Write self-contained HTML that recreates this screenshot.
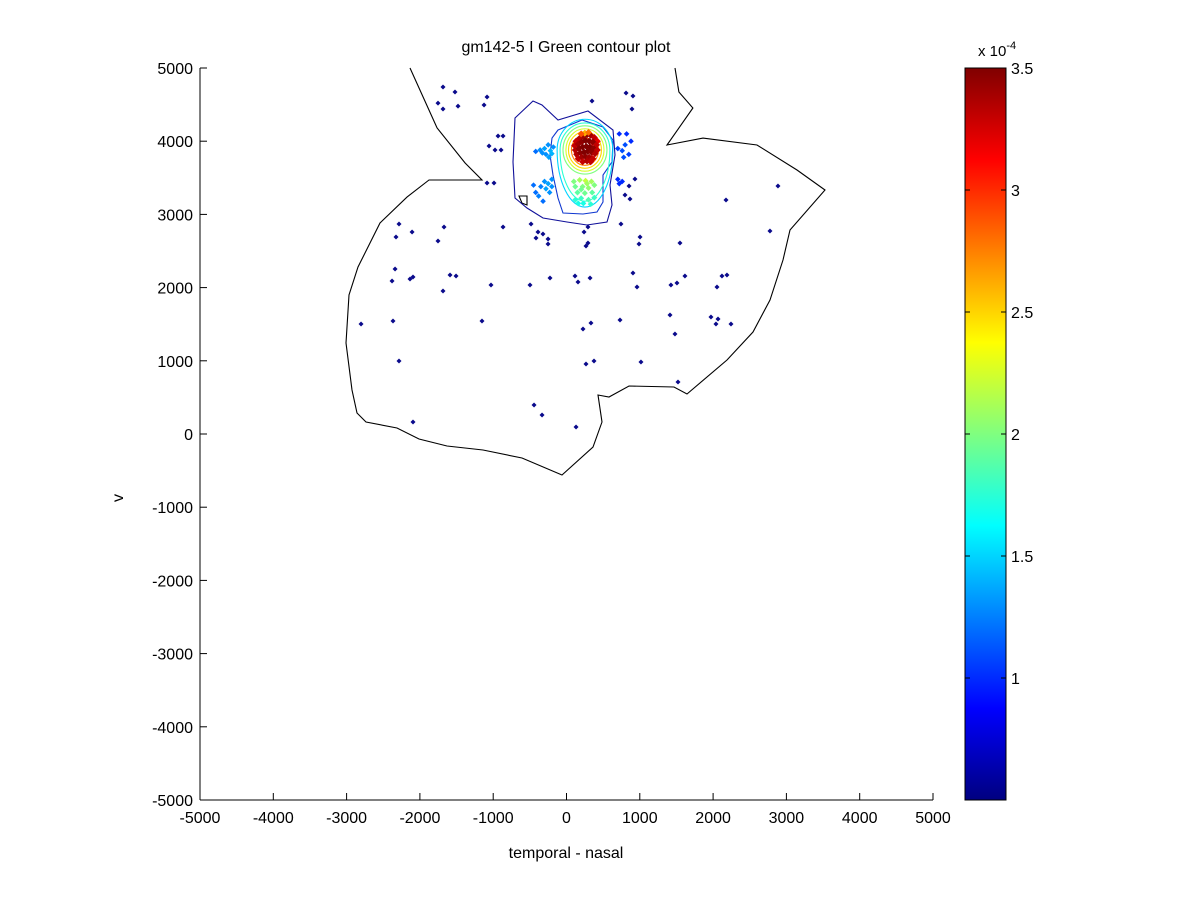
<!DOCTYPE html>
<html><head><meta charset="utf-8"><style>
body{margin:0;background:#fff;}
svg{display:block;font-family:"Liberation Sans",Arial,sans-serif;}
</style></head><body>
<svg id="chart" width="1200" height="900" viewBox="0 0 1200 900">
<defs><linearGradient id="jet" x1="0" y1="1" x2="0" y2="0">
<stop offset="0" stop-color="#000080"/><stop offset="0.125" stop-color="#0000ff"/><stop offset="0.375" stop-color="#00ffff"/><stop offset="0.625" stop-color="#ffff00"/><stop offset="0.875" stop-color="#ff0000"/><stop offset="1" stop-color="#800000"/>
</linearGradient></defs>
<text x="566" y="52" font-size="16" text-anchor="middle">gm142-5 I Green contour plot</text>
<text x="566" y="858" font-size="16" text-anchor="middle">temporal - nasal</text>
<text x="123" y="498" font-size="16" text-anchor="middle" transform="rotate(-90 123 498)">v</text>
<g id="plot"></g>
<rect x="965" y="68" width="41" height="732" fill="url(#jet)" stroke="#000" stroke-width="1"/>
<text x="978" y="56" font-size="15">x 10<tspan dy="-7" font-size="11">-4</tspan></text>
<g id="cbticks"></g>
</svg>
<script>
const xTicks=[-5000,-4000,-3000,-2000,-1000,0,1000,2000,3000,4000,5000];
const yTicks=[-5000,-4000,-3000,-2000,-1000,0,1000,2000,3000,4000,5000];
const cbTicks=[1,1.5,2,2.5,3,3.5];
const cbMin=0.5, cbMax=3.5;
const outlineX=[-2135,-1766,-1384,-1153,-1876,-2176,-2544,-2844,-2967,-3008,-2926,-2858,-2735,-2312,-2012,-1630,-1139,-607,-61,361,484,430,580,853,1466,1644,2189,2544,2776,2953,3049,3527,3145,2599,1862,1371,1725,1534,1480];
const outlineY=[5000,4180,3702,3470,3470,3237,2882,2281,1899,1243,601,287,164,82,-68,-164,-219,-328,-560,-178,164,533,505,656,642,546,1011,1393,1830,2377,2787,3333,3606,3948,4043,3948,4453,4672,5000];
const ring1X=[-702,-457,-334,-116,293,634,662,593,621,552,280,7,-321,-539,-702,-730];
const ring1Y=[4317,4549,4494,4289,4412,4153,3811,3401,3128,2896,2855,2896,2951,3087,3224,3716];
const ring2X=[-116,211,498,634,621,498,498,416,225,-48,-116,-184,-225,-198];
const ring2Y=[4153,4289,4194,4016,3716,3538,3169,3033,3005,3019,3224,3538,3811,4043];
const smallX=[-648,-539,-539,-607];
const smallY=[3251,3251,3128,3155];
const ringLevels=[1.5,1.75,2.0,2.25,2.5,2.75,3.0,3.25];
const ringRx=[380,340,300,260,225,185,150,115];
const ringUp=[420,370,330,290,250,205,165,130];
const ringDown=[780,700,330,290,250,210,170,135];
const ringCx=252, ringCy=3880;
const darkX=[-1685,-1521,-1753,-1685,-1480,-1084,-1125,348,812,907,893,-934,-866,-1057,-975,-893,-1084,-989,934,853,798,866,2885,2176,2776,-2285,-2326,-2107,-1671,-1753,-866,-484,-389,-321,-416,-252,-252,239,293,266,293,743,1003,989,1548,-2339,-2380,-2135,-2094,-1589,-1507,-1685,-1030,-498,-225,116,157,321,907,962,1425,1507,1616,2121,2189,2053,-2803,-2367,-1153,225,334,730,1412,1480,1971,2067,2039,2244,-2285,266,375,1016,1521,-443,-334,130,-2094];
const darkY=[4740,4672,4521,4440,4480,4603,4494,4549,4658,4617,4440,4071,4071,3934,3879,3879,3429,3429,3483,3388,3265,3210,3388,3196,2773,2869,2691,2759,2828,2636,2828,2869,2759,2732,2677,2664,2595,2759,2828,2568,2609,2869,2691,2595,2609,2254,2090,2117,2145,2172,2158,1953,2035,2035,2131,2158,2076,2131,2199,2008,2035,2063,2158,2158,2172,2008,1503,1544,1544,1434,1516,1557,1626,1366,1598,1571,1503,1503,997,956,997,984,710,396,260,96,164];
const clusterX=[-360,-300,-250,-220,-280,-200,-420,-240,-180,-330,-300,-250,-200,-350,-280,-420,-230,-380,-320,-200,-450,720,800,760,850,700,880,780,820,700,760,720];
const clusterY=[3880,3900,3950,3870,3820,3830,3860,3780,3920,3840,3450,3420,3480,3380,3350,3300,3300,3250,3180,3380,3400,4100,3950,3870,3820,3900,4000,3780,4100,3480,3450,3420];
const clusterV=[1.3,1.35,1.3,1.4,1.3,1.4,1.2,1.35,1.3,1.3,1.3,1.35,1.3,1.25,1.35,1.2,1.3,1.25,1.2,1.3,1.2,1.0,1.1,1.1,1.05,1.05,1.0,1.1,1.0,1.0,1.0,1.0];
const greenX=[100,180,260,340,380,120,220,300,150,250,350,200,300,380,120,230,330,160,280,200];
const greenY=[3450,3470,3460,3450,3400,3380,3380,3360,3300,3290,3300,3220,3200,3230,3200,3150,3140,3150,3420,3340];
const greenV=[2.0,2.1,2.2,2.1,2.0,1.95,2.0,2.05,1.9,1.95,1.9,1.8,1.85,1.8,1.75,1.7,1.75,1.7,2.1,1.95];
const redX=[130,180,230,280,330,380,420,110,160,210,260,310,360,410,120,170,220,270,320,370,420,140,190,240,290,340,390,160,210,260,310,360,220,280,330,250,300,200];
const redY=[4000,4040,4070,4090,4080,4050,4000,3940,3960,3990,4010,4000,3990,3950,3880,3900,3920,3930,3920,3900,3880,3820,3840,3850,3860,3850,3830,3760,3780,3790,3780,3760,3720,3730,3720,4110,4120,4100];
const redV=[3.3,3.35,3.4,3.45,3.4,3.3,3.2,3.3,3.4,3.45,3.5,3.5,3.45,3.3,3.35,3.45,3.5,3.5,3.5,3.45,3.3,3.35,3.45,3.5,3.5,3.45,3.35,3.3,3.4,3.45,3.4,3.3,3.3,3.35,3.3,2.6,2.8,2.9];

const NS='http://www.w3.org/2000/svg';
const X0=200,X1=933,Y0=800,Y1=68;
function sx(v){return X0+(v+5000)/10000*(X1-X0);}
function sy(v){return Y0-(v+5000)/10000*(Y0-Y1);}
function cy(v){return 800-(v-cbMin)/(cbMax-cbMin)*732;}
function jet(v){const t=(v-cbMin)/(cbMax-cbMin);const c=a=>Math.round(255*Math.max(0,Math.min(1,1.5-Math.abs(4*t-a))));return `rgb(${c(3)},${c(2)},${c(1)})`;}
function mk(tag,attrs,parent){const e=document.createElementNS(NS,tag);for(const k in attrs)e.setAttribute(k,attrs[k]);parent.appendChild(e);return e;}
const plot=document.getElementById('plot');
let ax=mk('line',{x1:X0,y1:Y0,x2:X1,y2:Y0,stroke:'#000'},plot);


let ay=mk('line',{x1:X0,y1:Y0,x2:X0,y2:Y1,stroke:'#000'},plot);


xTicks.forEach(v=>{
 const t=mk('line',{x1:sx(v),y1:Y0,x2:sx(v),y2:Y0-7,stroke:'#000'},plot);
 
 
 const l=mk('text',{x:sx(v),y:823,'font-size':16,'text-anchor':'middle'},plot);l.textContent=v;
 
 
});
yTicks.forEach(v=>{
 const t=mk('line',{x1:X0,y1:sy(v),x2:X0+7,y2:sy(v),stroke:'#000'},plot);
 
 
 const l=mk('text',{x:193,y:sy(v)+6,'font-size':16,'text-anchor':'end'},plot);l.textContent=v;
 
 
});
function poly(xs,ys,color,closed,name){
 const pts=xs.map((x,i)=>sx(x).toFixed(1)+','+sy(ys[i]).toFixed(1)).join(' ');
 const e=mk(closed?'polygon':'polyline',{points:pts,fill:'none',stroke:color,'stroke-width':1.1},plot);
 
 
}
poly(outlineX,outlineY,'#000',false,'retina-outline');
poly(smallX,smallY,'#000',true,'small-contour');
poly(ring1X,ring1Y,'#10109a',true,'contour-level-1');
poly(ring2X,ring2Y,'#1038d0',true,'contour-level-2');
ringLevels.forEach((lv,i)=>{
 const cx=sx(ringCx),cyy=sy(ringCy);
 const rx=(sx(ringRx[i])-sx(0)),ru=(sy(0)-sy(ringUp[i])),rd=(sy(0)-sy(ringDown[i]));
 const d=`M${cx-rx},${cyy} A${rx},${ru} 0 0 1 ${cx+rx},${cyy} A${rx},${rd} 0 0 1 ${cx-rx},${cyy}Z`;
 const e=mk('path',{d:d,fill:'none',stroke:jet(lv),'stroke-width':1.1},plot);
 
 
});
function dot(x,y,col,r){
 const px=sx(x),py=sy(y);
 const e=mk('path',{d:`M${px-r},${py}L${px},${py-r}L${px+r},${py}L${px},${py+r}Z`,fill:col},plot);
 
 
}
darkX.forEach((x,i)=>dot(x,darkY[i],'#0a0a8c',2.5));
clusterX.forEach((x,i)=>dot(x,clusterY[i],jet(clusterV[i]),2.8));
greenX.forEach((x,i)=>dot(x,greenY[i],jet(greenV[i]),3));
redX.forEach((x,i)=>dot(x,redY[i],jet(redV[i]),3.5));
const cb=document.getElementById('cbticks');
cbTicks.forEach(v=>{
 const y=cy(v);
 let t=mk('line',{x1:965,y1:y,x2:970,y2:y,stroke:'#000'},cb);
 
 
 t=mk('line',{x1:1001,y1:y,x2:1006,y2:y,stroke:'#000'},cb);
 
 
 const l=mk('text',{x:1011,y:y+6,'font-size':16},cb);l.textContent=v;
 
 
});
</script>
</body></html>
